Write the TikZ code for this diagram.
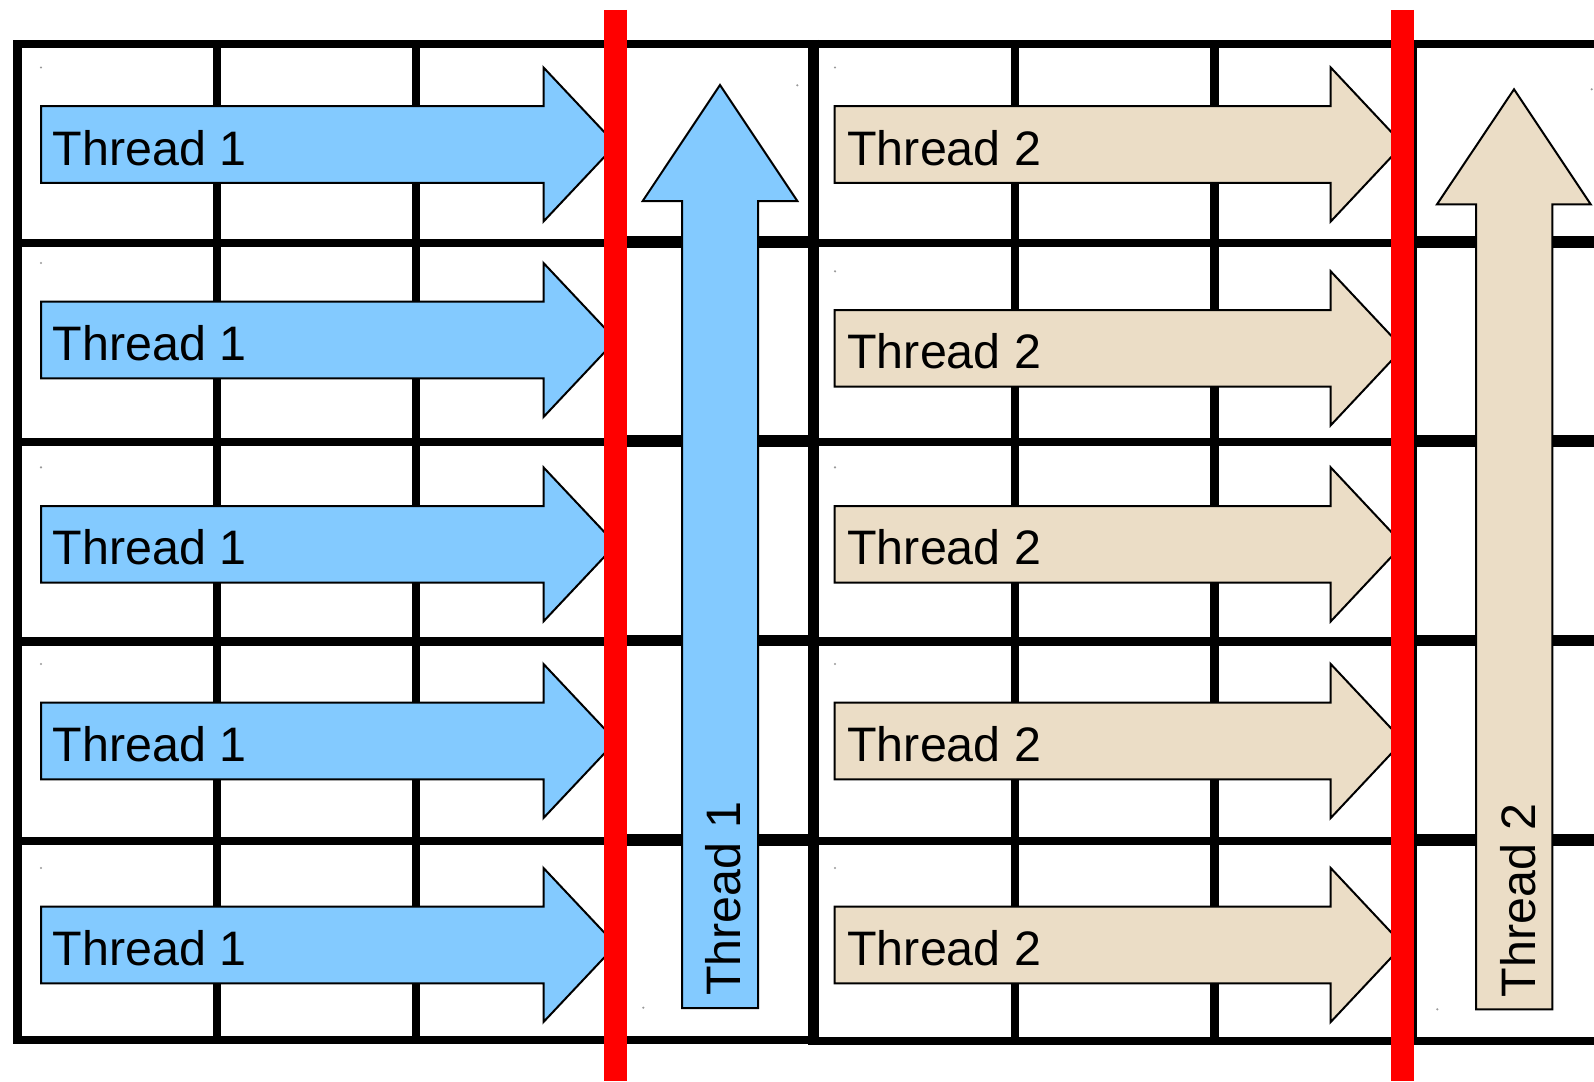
\documentclass[tikz,border=0pt]{standalone}
\usepackage{fontspec}
\setmainfont{Liberation Sans}
\definecolor{tblue}{HTML}{83CAFF}
\definecolor{ttan}{HTML}{EBDDC6}
\begin{document}
\begin{tikzpicture}[x=0.5pt,y=-0.5pt,
  gridline/.style={line width=4.1pt,line cap=rect},
  gridthick/.style={line width=5.75pt,line cap=rect},
  divider/.style={line width=5.75pt,line cap=butt},
  arrowline/.style={draw=black,line width=1pt,line join=miter},
  lbl/.style={inner sep=0pt,font=\fontsize{24.2}{29}\selectfont},
  redbar/.style={draw=red,line width=11.5pt},
  tinydot/.style={fill=gray!80}]
\useasboundingbox[fill=white] (0,0) rectangle (1594,1081);

% left table
\draw[gridline] (17.5,44) rectangle (813.5,1040);
\foreach \x in {217,416,615} \draw[gridline] (\x,44) -- (\x,1040);
\foreach \y in {243,442,641.5,841} {
  \draw[gridline] (17.5,\y) -- (615,\y);
  \draw[gridthick] (615,\y-1) -- (813.5,\y-1);
}
\draw[divider] (813.5,40) -- (813.5,1045);

% right table
\draw[gridline] (813.5,44) -- (1594,44);
\draw[gridline] (813.5,1041) -- (1594,1041);
\foreach \x in {1015,1214.5} \draw[gridline] (\x,44) -- (\x,1041);
\draw[divider] (1411.5,40) -- (1411.5,1045);
\foreach \y in {243,442,641.5,841} {
  \draw[gridline] (813.5,\y) -- (1411.5,\y);
  \draw[gridthick] (1411.5,\y-1) -- (1594,\y-1);
}

% horizontal Thread 1 arrows
\foreach \y/\n in {144.5/a,340/b,544.4/c,741/d,945/e} {
  \draw[arrowline,fill=tblue] (41,\y-38.3) -- (543.5,\y-38.3) -- (543.5,\y-77)
    -- (616,\y) -- (543.5,\y+77) -- (543.5,\y+38.3) -- (41,\y+38.3) -- cycle;
  \node[lbl,anchor=base west] (ta\n) at (52.2,\y+20.5) {Thread 1};
  \fill[tinydot] (41,\y-77) circle (1.2);
}

% horizontal Thread 2 arrows
\foreach \y/\n in {144.5/a,348.3/b,544.4/c,741/d,945/e} {
  \draw[arrowline,fill=ttan] (834.5,\y-38.3) -- (1330.7,\y-38.3) -- (1330.7,\y-77)
    -- (1403,\y) -- (1330.7,\y+77) -- (1330.7,\y+38.3) -- (834.5,\y+38.3) -- cycle;
  \node[lbl,anchor=base west] (tb\n) at (847,\y+20.5) {Thread 2};
  \fill[tinydot] (835,\y-77) circle (1.2);
}

% vertical Thread 1 arrow
\draw[arrowline,fill=tblue] (720,85) -- (797.3,201) -- (758,201) -- (758,1008)
  -- (682,1008) -- (682,201) -- (642.7,201) -- cycle;
\node[lbl,rotate=90,anchor=base west] (tav) at (740,996) {Thread 1};
\fill[tinydot] (797.3,85.3) circle (1.2);
\fill[tinydot] (643.3,1007.7) circle (1.2);

% vertical Thread 2 arrow
\draw[arrowline,fill=ttan] (1514,89.3) -- (1590.7,204.3) -- (1552.3,204.3) -- (1552.3,1009.3)
  -- (1476,1009.3) -- (1476,204.3) -- (1437,204.3) -- cycle;
\node[lbl,rotate=90,anchor=base west] (tbv) at (1535,997.8) {Thread 2};
\fill[tinydot] (1591.7,89.3) circle (1.2);
\fill[tinydot] (1437.3,1009.3) circle (1.2);

% red barriers
\draw[redbar] (615.5,10) -- (615.5,1081);
\draw[redbar] (1402,10) -- (1402,1081);
\end{tikzpicture}
\end{document}
